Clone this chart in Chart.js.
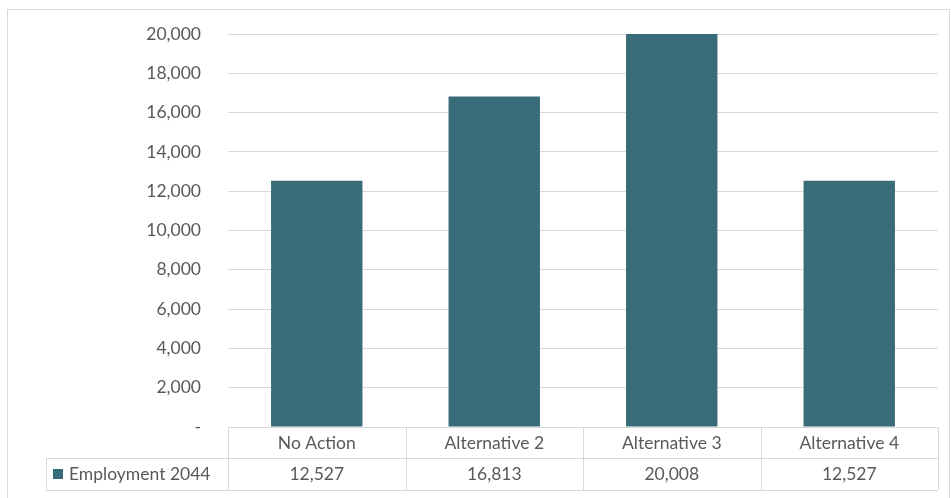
<!DOCTYPE html>
<html lang="en">
<head>
    <meta charset="UTF-8">
    <title>Employment 2044</title>
    <script src="https://cdn.jsdelivr.net/npm/chart.js"></script>
    <style>
        body { margin: 0; background: #fff; }
        #wrap { width: 951px; height: 498px; position: relative; }
    </style>
</head>
<body>
<div id="wrap"><canvas id="myChart"></canvas></div>

<script>
    const categories = ['No Action', 'Alternative 2', 'Alternative 3', 'Alternative 4'];
    const employment2044 = [12527, 16813, 20008, 12527];
    const seriesName = 'Employment 2044';
    const yTicks = [0, 2000, 4000, 6000, 8000, 10000, 12000, 14000, 16000, 18000, 20000];

    const barColor = '#386c79';
    const lineColor = '#d9d9d9';
    const textColor = '#595959';
    const fontFamily = 'Lato, "Open Sans", sans-serif';

    // frame around the whole chart + data table under the plot
    const tablePlugin = {
        id: 'dataTable',
        afterDraw(chart) {
            const ctx = chart.ctx;
            const x = chart.scales.x;
            const area = chart.chartArea;
            const colW = x.width / categories.length;
            const rowH = 31;
            const top = area.bottom;
            const mid = top + rowH;
            const bottom = mid + rowH + 1;
            const legendLeft = 46;

            ctx.save();
            ctx.strokeStyle = lineColor;
            ctx.lineWidth = 1;

            // outer frame
            ctx.strokeRect(7.5, 9.5, 942, 500);

            ctx.beginPath();
            ctx.moveTo(area.left, top + 0.5); ctx.lineTo(area.right, top + 0.5);
            ctx.moveTo(legendLeft, mid + 0.5); ctx.lineTo(area.right, mid + 0.5);
            ctx.moveTo(legendLeft, bottom + 0.5); ctx.lineTo(area.right, bottom + 0.5);
            ctx.moveTo(legendLeft + 0.5, mid); ctx.lineTo(legendLeft + 0.5, bottom);
            for (let i = 0; i <= categories.length; i++) {
                const px = Math.round(area.left + i * colW) + 0.5;
                ctx.moveTo(px, top); ctx.lineTo(px, bottom);
            }
            ctx.stroke();

            ctx.fillStyle = textColor;
            ctx.font = '17.5px ' + fontFamily;
            ctx.textAlign = 'center';
            ctx.textBaseline = 'middle';
            categories.forEach((c, i) => {
                const cx = x.getPixelForValue(i);
                ctx.fillText(c, cx, top + rowH / 2 + 1);
                ctx.fillText(employment2044[i].toLocaleString('en-US'), cx, mid + rowH / 2 + 1);
            });

            // legend key
            ctx.fillStyle = barColor;
            ctx.fillRect(53, mid + 11, 10, 10);
            ctx.fillStyle = textColor;
            ctx.textAlign = 'left';
            ctx.fillText(seriesName, 69, mid + rowH / 2 + 1);
            ctx.restore();
        }
    };

    const ctx = document.getElementById('myChart').getContext('2d');
    new Chart(ctx, {
        type: 'bar',
        data: {
            labels: categories,
            datasets: [{
                label: seriesName,
                data: employment2044,
                backgroundColor: barColor,
                categoryPercentage: 1,
                barPercentage: 0.515
            }]
        },
        options: {
            responsive: true,
            maintainAspectRatio: false,
            animation: false,
            layout: { padding: { left: 0, right: 13, top: 34, bottom: 71 } },
            plugins: { legend: { display: false }, tooltip: { enabled: false } },
            scales: {
                x: { display: false },
                y: {
                    min: 0,
                    max: 20000,
                    afterBuildTicks(scale) {
                        scale.ticks = yTicks.map(v => ({ value: v }));
                    },
                    afterFit(scale) {
                        scale.width = 228;
                        scale.paddingTop = 0;
                        scale.paddingBottom = 0;
                    },
                    grid: { color: lineColor, drawTicks: false },
                    border: { display: false },
                    ticks: {
                        padding: 27,
                        color: textColor,
                        font: { family: fontFamily, size: 17.5 },
                        callback: v => v === 0 ? '-' : v.toLocaleString('en-US')
                    }
                }
            }
        },
        plugins: [tablePlugin]
    });
</script>
</body>
</html>
